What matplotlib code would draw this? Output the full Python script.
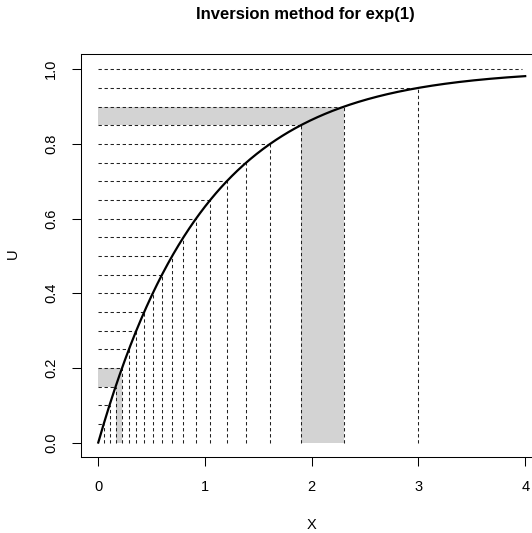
import numpy as np
import matplotlib
matplotlib.use('Agg')
import matplotlib.pyplot as plt

# probability levels (U) used for the dashed guide lines
u_levels = [0.05, 0.10, 0.15, 0.20, 0.25, 0.30, 0.35, 0.40, 0.45, 0.50,
            0.55, 0.60, 0.65, 0.70, 0.75, 0.80, 0.85, 0.90, 0.95]
u_top = 1.0
x_top_end = 3.97

# highlighted intervals of U (shaded bands)
bands = [(0.15, 0.20), (0.85, 0.90)]

x_ticks = [0, 1, 2, 3, 4]
y_ticks = [0.0, 0.2, 0.4, 0.6, 0.8, 1.0]
y_ticklabels = ['0.0', '0.2', '0.4', '0.6', '0.8', '1.0']

def qexp(u):
    # quantile function of exp(1)
    return -np.log(1.0 - np.asarray(u))

plt.rcParams['font.family'] = ['Liberation Sans', 'DejaVu Sans']

fig = plt.figure(figsize=(5.32, 5.33), dpi=100)
ax = fig.add_axes([0.1526, 0.1417, 0.8667, 0.7563])

gray = '#d3d3d3'
dash = dict(color='#222222', lw=0.75, linestyle=(0, (3.2, 2.6)))

# shaded bands
for lo, hi in bands:
    xlo, xhi = qexp(lo), qexp(hi)
    ax.fill_between([0, xhi], lo, hi, color=gray, lw=0, zorder=1)
    ax.fill_between([xlo, xhi], 0, hi, color=gray, lw=0, zorder=1)

# dashed guide lines
xq = qexp(u_levels)
for u, xv in zip(u_levels, xq):
    ax.plot([0, xv], [u, u], zorder=2, **dash)
    ax.plot([xv, xv], [0, u], zorder=2, **dash)
ax.plot([0, x_top_end], [u_top, u_top], zorder=2, **dash)

# exponential cdf
xs = np.linspace(0, 4, 400)
ax.plot(xs, 1 - np.exp(-xs), color='black', lw=1.6, zorder=3)

ax.set_xlim(-0.16, 4.16)
ax.set_ylim(-0.04, 1.04)
ax.set_xticks(x_ticks)
ax.set_yticks(y_ticks)
ax.set_yticklabels(y_ticklabels, rotation=90, va='center')
ax.tick_params(labelsize=10.5, length=6.5, width=0.75, pad=10)
for sp in ax.spines.values():
    sp.set_linewidth(0.75)

# axis labels and title placed R style
fig.text(311.8 / 532, 1 - 525 / 533, 'X', ha='center', va='center', fontsize=10.5)
fig.text(13.3 / 532, 1 - 254 / 533, 'U', ha='center', va='center', fontsize=10.5, rotation=90)
fig.text(305 / 532, 1 - 15 / 533, 'Inversion method for exp(1)', ha='center', va='center',
         fontsize=12, fontweight='bold')

fig.savefig('out.png', dpi=100)
